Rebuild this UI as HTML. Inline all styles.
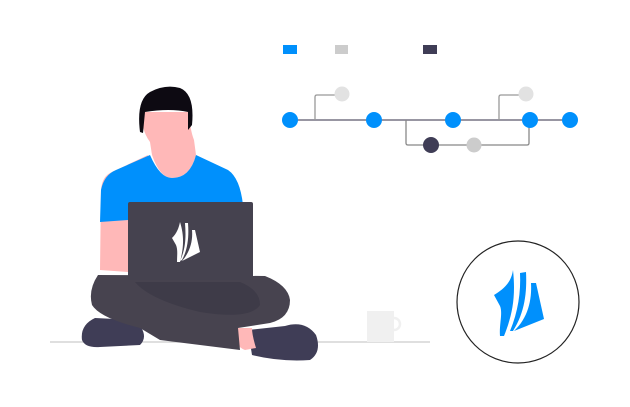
<!DOCTYPE html>
<html><head><style>html,body{margin:0;padding:0;background:#fff;}svg{display:block}</style></head>
<body>
<svg width="630" height="407" viewBox="0 0 630 407" xmlns="http://www.w3.org/2000/svg">
<!-- legend -->
<rect x="283" y="45" width="14" height="9" fill="#0090fc"/>
<rect x="335" y="45" width="13" height="9" fill="#ccc"/>
<rect x="423" y="45" width="14" height="9" fill="#3f3d56"/>
<!-- graph lines -->
<g fill="none" stroke="#5a586a" stroke-width="1.3">
<line x1="290" y1="120" x2="570" y2="120"/>
<path d="M315 120 V97 Q315 95 317 95 H340" stroke="#999"/>
<path d="M499 120 V97 Q499 95 501 95 H524" stroke="#999"/>
<path d="M406 120 V143 Q406 145 408 145 H527 Q529 145 529 143 V120" stroke="#888"/>
</g>
<g fill="#0090fc">
<circle cx="290" cy="120" r="8"/><circle cx="374" cy="120" r="8"/><circle cx="453" cy="120" r="8"/><circle cx="530" cy="120" r="8"/><circle cx="570" cy="120" r="8"/>
</g>
<circle cx="342" cy="94" r="7.5" fill="#e2e2e2"/>
<circle cx="526" cy="94" r="7.5" fill="#e2e2e2"/>
<circle cx="431" cy="145" r="8" fill="#3f3d56"/>
<circle cx="474" cy="145" r="7.5" fill="#ccc"/>
<!-- floor -->
<line x1="50" y1="342" x2="430" y2="342" stroke="#ccc" stroke-width="1.2"/>
<!-- cup -->
<rect x="367" y="311" width="27" height="31" fill="#f0f0f0"/>
<path d="M394 318 a6 6 0 0 1 0 12" fill="none" stroke="#f0f0f0" stroke-width="2.5"/>
<!-- person -->
<path d="M148 155 L112 172 Q102 176 101 190 L100 270 L128 272 L128 220 Z" fill="#ffb8b8"/>
<path d="M142 112 Q141 130 150 142 L152 155 Q160 178 172 178 Q190 178 196 155 L194 140 Q190 130 189 112 Z" fill="#ffb8b8"/>
<path d="M140 132 Q136 100 150 92 Q165 84 180 88 Q195 94 192 125 L188 130 L188 112 Q170 108 145 112 L143 133 Z" fill="#0d0a12"/>
<path d="M150 155 Q160 178 172 178 Q190 178 196 155 L228 170 Q240 178 243 205 L243 220 L128 220 L100 222 L101 190 Q104 175 116 170 Z" fill="#0090fc"/>
<!-- shoes -->
<path d="M95 318 Q80 325 82 340 Q85 348 100 347 L140 345 Q150 335 135 320 Z" fill="#3f3d56"/>
<path d="M248 330 L252 355 Q280 362 310 360 Q322 352 316 335 Q305 320 285 326 Z" fill="#3f3d56"/>
<path d="M236 328 Q232 345 245 350 L256 348 Q252 335 252 328 Z" fill="#ffb8b8"/>
<!-- legs -->
<path d="M98 275 Q88 290 92 305 Q100 318 140 328 L160 340 Q200 345 240 350 L238 328 L270 323 Q290 318 290 300 Q288 285 265 276 Z" fill="#47434f"/>
<path d="M135 282 Q150 300 200 312 Q250 320 260 305 Q260 290 240 282 Z" fill="#3e3b48"/>
<!-- laptop -->
<rect x="128" y="202" width="125" height="78" rx="2" fill="#45424f"/>
<g fill="#fff">
<path d="M180 222 C178 232 174 236 172 238 L176 245 C178 250 177 256 177 262 L180 262 C183 250 185 238 180 222 Z"/>
<path d="M185 223 L188 223 C189 236 188 249 182 260 L180 261 C186 248 186 236 185 223 Z"/>
<path d="M192 230 L195 230 L200 252 L182 261 C190 252 193 241 192 230 Z"/>
</g>
<!-- logo circle -->
<circle cx="518" cy="302" r="61" fill="#fff" stroke="#222" stroke-width="1.2"/>
<g fill="#0090fc">
<path d="M513 270 C511 284 502 290 494 295 L500 306 C503 313 499 325 500 336 L504 336 C512 316 516 298 513 270 Z"/>
<path d="M520 273 L526 272 C527 292 525 312 513 331 L510 331 C518 312 521 292 520 273 Z"/>
<path d="M531 283 L536 283 L544 319 L514 331 C528 318 532 300 531 283 Z"/>
</g>
</svg>
</body></html>
